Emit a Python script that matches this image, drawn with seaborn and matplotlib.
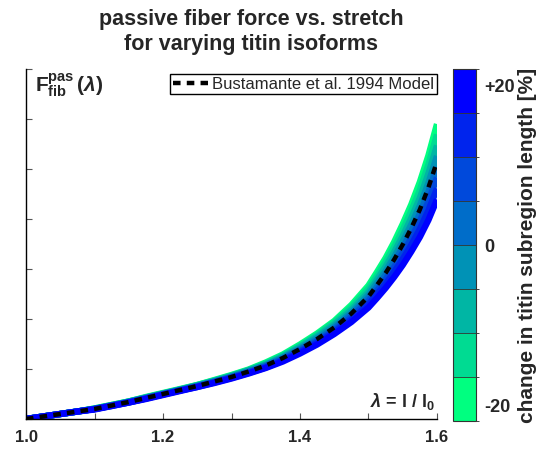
import numpy as np
import pandas as pd
import matplotlib
matplotlib.use("Agg")
import matplotlib.pyplot as plt
import seaborn as sns
from matplotlib.colors import ListedColormap, BoundaryNorm
import matplotlib.colorbar as mcb

# ---------------- data ----------------
stretch = [1.0, 1.025, 1.05, 1.075, 1.1, 1.125, 1.15, 1.175, 1.2, 1.225, 1.25, 1.275,
           1.3, 1.325, 1.35, 1.375, 1.4, 1.425, 1.45, 1.475, 1.5, 1.5125, 1.525,
           1.5375, 1.55, 1.5625, 1.575, 1.5875, 1.6]
titin_labels = ["-20", "-14", "-9", "-3", "+3", "+9", "+14", "+20"]
force_m20 = [0, 0.05, 0.10, 0.15, 0.21, 0.28, 0.35, 0.44, 0.52, 0.60, 0.68, 0.78, 0.88, 0.99, 1.13,
             1.29, 1.49, 1.71, 1.96, 2.28, 2.67, 2.94, 3.22, 3.54, 3.90, 4.29, 4.74, 5.27, 5.90]
force_m14 = [0, 0.05, 0.10, 0.15, 0.21, 0.28, 0.35, 0.43, 0.51, 0.59, 0.68, 0.77, 0.87, 0.98, 1.11,
             1.27, 1.46, 1.68, 1.93, 2.23, 2.61, 2.86, 3.14, 3.44, 3.78, 4.16, 4.58, 5.09, 5.69]
force_m9 = [0, 0.05, 0.10, 0.15, 0.20, 0.27, 0.35, 0.43, 0.51, 0.59, 0.67, 0.76, 0.86, 0.97, 1.09,
            1.25, 1.44, 1.65, 1.89, 2.18, 2.54, 2.79, 3.05, 3.34, 3.66, 4.02, 4.42, 4.91, 5.47]
force_m3 = [0, 0.05, 0.10, 0.15, 0.20, 0.27, 0.34, 0.42, 0.50, 0.58, 0.66, 0.75, 0.85, 0.96, 1.08,
            1.23, 1.41, 1.62, 1.85, 2.13, 2.48, 2.72, 2.96, 3.24, 3.55, 3.89, 4.27, 4.72, 5.26]
force_p3 = [0, 0.05, 0.10, 0.15, 0.20, 0.27, 0.34, 0.42, 0.50, 0.58, 0.66, 0.75, 0.84, 0.94, 1.06,
            1.21, 1.39, 1.58, 1.81, 2.09, 2.42, 2.64, 2.88, 3.14, 3.43, 3.75, 4.11, 4.54, 5.04]
force_p9 = [0, 0.05, 0.10, 0.15, 0.20, 0.27, 0.33, 0.41, 0.49, 0.57, 0.65, 0.74, 0.83, 0.93, 1.05,
            1.19, 1.36, 1.55, 1.77, 2.04, 2.36, 2.57, 2.79, 3.04, 3.32, 3.62, 3.96, 4.35, 4.83]
force_p14 = [0, 0.05, 0.10, 0.15, 0.20, 0.26, 0.33, 0.41, 0.49, 0.57, 0.64, 0.73, 0.82, 0.92, 1.03,
             1.17, 1.34, 1.52, 1.74, 1.99, 2.29, 2.50, 2.70, 2.94, 3.20, 3.48, 3.80, 4.17, 4.61]
force_p20 = [0, 0.05, 0.10, 0.15, 0.19, 0.26, 0.33, 0.40, 0.48, 0.56, 0.64, 0.72, 0.81, 0.91, 1.02,
             1.15, 1.31, 1.49, 1.70, 1.94, 2.23, 2.42, 2.62, 2.84, 3.08, 3.35, 3.64, 3.98, 4.39]
bustamante = [0, 0.05, 0.10, 0.15, 0.20, 0.27, 0.34, 0.42, 0.50, 0.58, 0.66, 0.75, 0.84, 0.95, 1.07,
              1.22, 1.40, 1.60, 1.83, 2.11, 2.45, 2.68, 2.92, 3.19, 3.49, 3.82, 4.19, 4.63, 5.15]
colors = ["#00FF80", "#00DB92", "#00B6A4", "#0092B6", "#006DC9", "#0049DB", "#0024ED", "#0000FF"]
cbar_ticks = [-20, 0, 20]
cbar_ticklabels = ["-20", "0", "+20"]
x_ticks = [1.0, 1.1, 1.2, 1.3, 1.4, 1.5, 1.6]
x_ticklabels = ["1.0", "", "1.2", "", "1.4", "", "1.6"]

curves = [force_m20, force_m14, force_m9, force_m3, force_p3, force_p9, force_p14, force_p20]
rows = []
for lab, vals in zip(titin_labels, curves):
    for s, f in zip(stretch, vals):
        rows.append({"stretch": s, "force": f, "change": lab})
df = pd.DataFrame(rows)
df_ref = pd.DataFrame({"stretch": stretch, "force": bustamante})

# ---------------- style ----------------
sns.set_style("ticks")
plt.rcParams["font.family"] = ["Liberation Sans", "DejaVu Sans"]
plt.rcParams["mathtext.fontset"] = "custom"
plt.rcParams["mathtext.rm"] = "Liberation Sans:bold"
plt.rcParams["mathtext.it"] = "Liberation Sans:italic:bold"
plt.rcParams["mathtext.bf"] = "Liberation Sans:bold"
plt.rcParams["mathtext.sf"] = "Liberation Sans:bold"

fig = plt.figure(figsize=(5.41, 4.53), dpi=100)
ax = fig.add_axes([26 / 541, 34 / 453, 411 / 541, 350 / 453])
cax = fig.add_axes([453 / 541, 32 / 453, 23 / 541, 352 / 453])

palette = dict(zip(titin_labels, colors))
sns.lineplot(data=df, x="stretch", y="force", hue="change", hue_order=titin_labels,
             palette=palette, linewidth=4.6, legend=False, sort=False,
             estimator=None, ax=ax, solid_joinstyle="round", solid_capstyle="butt")
sns.lineplot(data=df_ref, x="stretch", y="force", color="black", linewidth=3.2,
             linestyle=(0, (1.7, 1.4)), ax=ax, label="Bustamante et al. 1994 Model",
             sort=False, estimator=None)

ax.set_xlim(1.0, 1.6)
ax.set_ylim(0, 7)
ax.set_xticks(x_ticks)
ax.set_xticklabels(x_ticklabels, fontsize=12, fontweight="bold")
ax.set_yticks(range(0, 8))
ax.set_yticklabels([])
ax.tick_params(direction="in", length=4, width=0.8, color="#555555", pad=8)
ax.set_xlabel("")
ax.set_ylabel("")
sns.despine(ax=ax)
for sp in ("left", "bottom"):
    ax.spines[sp].set_linewidth(1.0)
    ax.spines[sp].set_color("black")

ax.text(0.022, 0.992, r"$\mathrm{F}^{\mathrm{pas}}_{\mathrm{fib}}\,(\lambda)$",
        transform=ax.transAxes, ha="left", va="top", fontsize=15)
ax.text(0.995, 0.02, r"$\lambda$ = l / l$_\mathrm{0}$", transform=ax.transAxes,
        ha="right", va="bottom", fontsize=13, fontweight="bold")

leg = ax.legend(loc="upper right", bbox_to_anchor=(1.0, 0.985), fontsize=12,
                frameon=True, fancybox=False, edgecolor="black", framealpha=1,
                handlelength=2.1, borderpad=0.15, handletextpad=0.3,
                borderaxespad=0.0)
leg.get_frame().set_linewidth(1.0)

fig.text(251 / 541, 1 - 32 / 453, "passive fiber force vs. stretch\nfor varying titin isoforms",
         ha="center", va="center", fontsize=15.5, fontweight="bold", linespacing=1.2)

# colorbar
cmap = ListedColormap(colors)
bounds = np.linspace(-22, 22, 9)
norm = BoundaryNorm(bounds, cmap.N)
cb = mcb.ColorbarBase(cax, cmap=cmap, norm=norm, boundaries=bounds,
                      ticks=cbar_ticks, drawedges=True)
cb.set_ticklabels(cbar_ticklabels)
cb.outline.set_edgecolor("#333333")
cb.outline.set_linewidth(0.8)
cb.dividers.set_color("#333333")
cb.dividers.set_linewidth(0.6)
cax.tick_params(length=0, pad=6, labelsize=13)
for t in cax.get_yticklabels():
    t.set_fontweight("bold")
cb.set_label("change in titin subregion length [%]", fontsize=15,
             fontweight="bold", labelpad=2)

fig.savefig("out.png", dpi=100)
